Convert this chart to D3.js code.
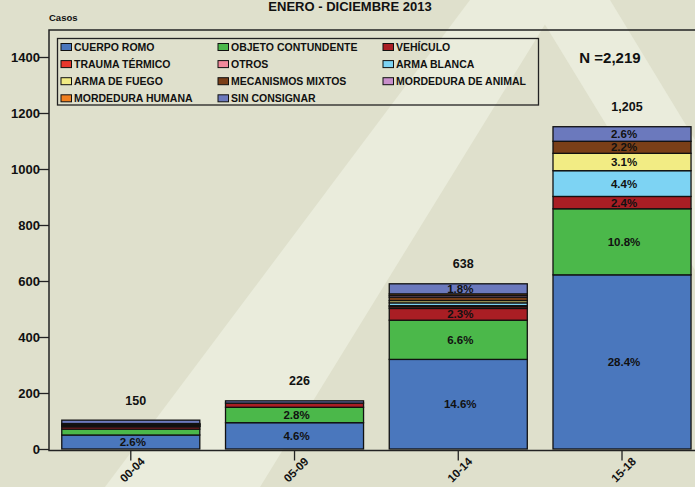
<!DOCTYPE html>
<html>
<head>
<meta charset="utf-8">
<script src="https://cdn.jsdelivr.net/npm/d3@7"></script>
<style>
  body { margin: 0; background: #dfe0cc; }
  svg { display: block; font-family: "Liberation Sans", Arial, sans-serif; font-weight: bold; }
</style>
</head>
<body>
<div id="chart_div"></div>
<script>
// Data
const categories = ["00-04", "05-09", "10-14", "15-18"];
const totals = ["150", "226", "638", "1,205"];
const seriesNames = [
  "CUERPO ROMO", "OBJETO CONTUNDENTE", "VEHÍCULO",
  "TRAUMA TÉRMICO", "OTROS", "ARMA BLANCA",
  "ARMA DE FUEGO", "MECANISMOS MIXTOS", "MORDEDURA DE ANIMAL",
  "MORDEDURA HUMANA", "SIN CONSIGNAR"
];
const seriesColors = [
  "#4a77bd", "#4bb84a", "#a91e24",
  "#e8372c", "#f0899a", "#7dd3f3",
  "#f2ec84", "#7a3f18", "#c98fcb",
  "#f07f1e", "#6b79bd"
];
const cuerpoRomo = [50, 94, 320, 622];
const objetoContundente = [21, 55, 140, 236];
const vehiculo = [8, 15, 42, 44];
const traumaTermico = [2, 0, 6, 0];
const otros = [1, 0, 4, 0];
const armaBlanca = [2, 0, 10, 92];
const armaFuego = [2, 0, 8, 62];
const mecanismosMixtos = [2, 0, 12, 43];
const mordeduraAnimal = [1, 0, 6, 0];
const mordeduraHumana = [2, 0, 6, 0];
const sinConsignar = [12, 8, 36, 52];
const seriesValues = [cuerpoRomo, objetoContundente, vehiculo, traumaTermico, otros,
  armaBlanca, armaFuego, mecanismosMixtos, mordeduraAnimal, mordeduraHumana, sinConsignar];

// percentage labels shown inside segments
const pctLabels = {
  "CUERPO ROMO": ["2.6%", "4.6%", "14.6%", "28.4%"],
  "OBJETO CONTUNDENTE": [null, "2.8%", "6.6%", "10.8%"],
  "VEHÍCULO": [null, null, "2.3%", "2.4%"],
  "ARMA BLANCA": [null, null, null, "4.4%"],
  "ARMA DE FUEGO": [null, null, null, "3.1%"],
  "MECANISMOS MIXTOS": [null, null, null, "2.2%"],
  "SIN CONSIGNAR": [null, null, "1.8%", "2.6%"]
};
const yTicks = [0, 200, 400, 600, 800, 1000, 1200, 1400];

const width = 695;
const height = 487;
const marginLeft = 49;

const svg = d3.select("#chart_div").append("svg")
  .attr("width", width)
  .attr("height", height);

// background watermark (large light "A")
svg.append("rect").attr("width", width).attr("height", height).attr("fill", "#dfe0cc");
svg.append("path")
  .attr("d", "M105,487 L260,487 L560,0 L470,0 Z")
  .attr("fill", "#eaecdc");
svg.append("path")
  .attr("d", "M530,0 L610,0 L695,140 L695,270 Z")
  .attr("fill", "#eaecdc");

// build table for stacking
const table = categories.map((c, i) => {
  const row = { cat: c };
  seriesNames.forEach((s, j) => row[s] = seriesValues[j][i]);
  return row;
});
const stacked = d3.stack().keys(seriesNames)(table);

const x = d3.scaleBand()
  .domain(categories)
  .range([marginLeft, marginLeft + 4 * 163.7])
  .paddingInner(0.157)
  .paddingOuter(0.078);

const y = d3.scaleLinear()
  .domain([0, 1400])
  .range([449, 57]);

const color = d3.scaleOrdinal().domain(seriesNames).range(seriesColors);

// bars
const gBars = svg.append("g");
stacked.forEach(layer => {
  gBars.append("g")
    .attr("fill", color(layer.key))
    .attr("stroke", "#111")
    .attr("stroke-width", 1.3)
    .selectAll("rect")
    .data(layer.filter(d => d[1] > d[0]))
    .join("rect")
    .attr("x", d => x(d.data.cat))
    .attr("y", d => y(d[1]))
    .attr("width", x.bandwidth())
    .attr("height", d => y(d[0]) - y(d[1]));
});

// percentage labels
stacked.forEach(layer => {
  const labels = pctLabels[layer.key];
  if (!labels) return;
  layer.forEach((d, i) => {
    if (!labels[i]) return;
    svg.append("text")
      .attr("x", x(d.data.cat) + x.bandwidth() / 2 + 2)
      .attr("y", (y(d[0]) + y(d[1])) / 2)
      .attr("dy", "0.36em")
      .attr("text-anchor", "middle")
      .attr("font-size", 11.5)
      .attr("fill", "#111")
      .text(labels[i]);
  });
});

// totals above bars
const lastLayer = stacked[stacked.length - 1];
lastLayer.forEach((d, i) => {
  svg.append("text")
    .attr("x", x(d.data.cat) + x.bandwidth() / 2 + 5)
    .attr("y", y(d[1]) - 20)
    .attr("dy", "0.36em")
    .attr("text-anchor", "middle")
    .attr("font-size", 12.5)
    .attr("fill", "#111")
    .text(totals[i]);
});

// axes
const yAxis = svg.append("g")
  .attr("transform", `translate(${marginLeft},0)`)
  .call(d3.axisLeft(y).tickValues(yTicks).tickSize(10).tickPadding(-1).tickFormat(d3.format("d")));
yAxis.select(".domain").remove();
yAxis.selectAll("line").attr("stroke", "#222").attr("stroke-width", 1.3);
yAxis.selectAll("text").attr("font-size", 13).attr("fill", "#111")
  .attr("font-family", "Liberation Sans, Arial, sans-serif").attr("font-weight", "bold");

const xAxis = svg.append("g")
  .attr("transform", `translate(0,${y(0) + 1.5})`)
  .call(d3.axisBottom(x).tickSize(10).tickSizeOuter(0));
xAxis.select(".domain").remove();
xAxis.selectAll("line").attr("stroke", "#222").attr("stroke-width", 1.3);
xAxis.selectAll("text")
  .attr("font-size", 11.5)
  .attr("fill", "#111")
  .attr("font-family", "Liberation Sans, Arial, sans-serif")
  .attr("font-weight", "bold")
  .attr("text-anchor", "end")
  .attr("transform", "translate(9,6) rotate(-45)")
  .attr("dy", "0.7em")
  .attr("y", 0)
  .attr("x", 0);

// frame lines: left, top, bottom
svg.append("path")
  .attr("d", `M${width},30 H${marginLeft} V${y(0) + 1.5} H${width}`)
  .attr("fill", "none")
  .attr("stroke", "#222")
  .attr("stroke-width", 1.5);

// titles
svg.append("text")
  .attr("x", 350).attr("y", 11)
  .attr("text-anchor", "middle")
  .attr("font-size", 13)
  .attr("fill", "#111")
  .text("ENERO - DICIEMBRE 2013");
svg.append("text")
  .attr("x", 49).attr("y", 21)
  .attr("font-size", 9.5)
  .attr("fill", "#111")
  .text("Casos");
svg.append("text")
  .attr("x", 610).attr("y", 63)
  .attr("text-anchor", "middle")
  .attr("font-size", 15)
  .attr("fill", "#111")
  .text("N =2,219");

// legend
const legend = svg.append("g");
legend.append("rect")
  .attr("x", 57.5).attr("y", 38.5)
  .attr("width", 481).attr("height", 66.5)
  .attr("fill", "none")
  .attr("stroke", "#222")
  .attr("stroke-width", 1.3);
const colX = [61, 218, 383];
seriesNames.forEach((s, i) => {
  const gx = colX[i % 3];
  const gy = 47 + Math.floor(i / 3) * 17.1;
  legend.append("rect")
    .attr("x", gx).attr("y", gy - 3.5)
    .attr("width", 10.5).attr("height", 7)
    .attr("fill", color(s))
    .attr("stroke", "#111")
    .attr("stroke-width", 1);
  legend.append("text")
    .attr("x", gx + 13).attr("y", gy)
    .attr("dy", "0.36em")
    .attr("font-size", 10.5)
    .attr("fill", "#111")
    .text(s);
});
</script>
</body>
</html>
